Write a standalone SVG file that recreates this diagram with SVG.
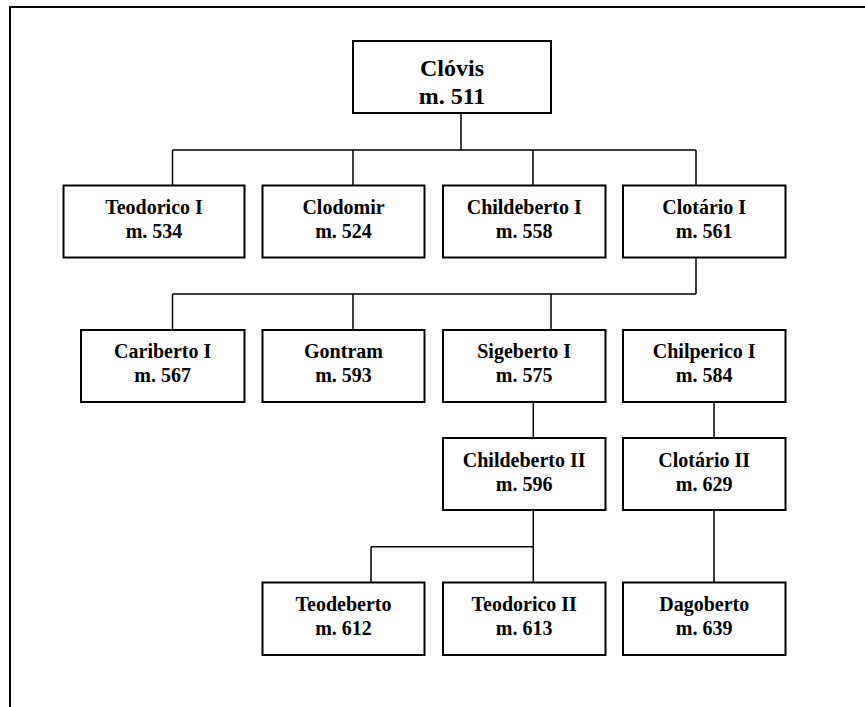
<svg xmlns="http://www.w3.org/2000/svg" width="865" height="707" viewBox="0 0 865 707">
<style>
.box{fill:#fff;stroke:#000;stroke-width:2}
.ln{fill:none;stroke:#000;stroke-width:1.5}
.frame{fill:none;stroke:#000;stroke-width:2}
text{font-family:"Liberation Serif","Times New Roman",serif;font-weight:bold;font-size:20px;text-anchor:middle;fill:#000}
.big{font-size:24px}
</style>
<rect width="865" height="707" fill="#fff"/>
<path class="frame" d="M10,707 V7 H865"/>
<g id="connectors">
<path class="ln" d="M461,113 V150 M172.5,150 H696 M172.5,150 V185.5 M353,150 V185.5 M533,150 V185.5 M696,150 V185.5"/>
<path class="ln" d="M696,257.5 V294 M172.5,294 H696 M172.5,294 V330 M353,294 V330 M551,294 V330"/>
<path class="ln" d="M533.3,402 V438 M714,402 V438"/>
<path class="ln" d="M533.3,510 V582.5 M371,546.7 H533.3 M371,546.7 V582.5 M714,510 V582.5"/>
</g>
<g id="clovis"><rect class="box" x="353" y="41" width="198" height="72"/><text class="big" x="452" y="76">Clóvis</text><text class="big" x="452" y="104">m. 511</text></g>
<g id="teodorico1"><rect class="box" x="63.5" y="185.5" width="181" height="72"/><text x="154" y="213.5">Teodorico I</text><text x="154" y="237.5">m. 534</text></g>
<g id="clodomir"><rect class="box" x="262.5" y="185.5" width="162" height="72"/><text x="343.5" y="213.5">Clodomir</text><text x="343.5" y="237.5">m. 524</text></g>
<g id="childeberto1"><rect class="box" x="443" y="185.5" width="162.5" height="72"/><text x="524.2" y="213.5">Childeberto I</text><text x="524.2" y="237.5">m. 558</text></g>
<g id="clotario1"><rect class="box" x="623" y="185.5" width="162.5" height="72"/><text x="704.2" y="213.5">Clotário I</text><text x="704.2" y="237.5">m. 561</text></g>
<g id="cariberto1"><rect class="box" x="81" y="330" width="163.5" height="72"/><text x="162.7" y="358">Cariberto I</text><text x="162.7" y="382">m. 567</text></g>
<g id="gontram"><rect class="box" x="262.5" y="330" width="162" height="72"/><text x="343.5" y="358">Gontram</text><text x="343.5" y="382">m. 593</text></g>
<g id="sigeberto1"><rect class="box" x="443" y="330" width="162.5" height="72"/><text x="524.2" y="358">Sigeberto I</text><text x="524.2" y="382">m. 575</text></g>
<g id="chilperico1"><rect class="box" x="623" y="330" width="162.5" height="72"/><text x="704.2" y="358">Chilperico I</text><text x="704.2" y="382">m. 584</text></g>
<g id="childeberto2"><rect class="box" x="443" y="438" width="162.5" height="72"/><text x="524.2" y="467">Childeberto II</text><text x="524.2" y="491">m. 596</text></g>
<g id="clotario2"><rect class="box" x="623" y="438" width="162.5" height="72"/><text x="704.2" y="467">Clotário II</text><text x="704.2" y="491">m. 629</text></g>
<g id="teodeberto"><rect class="box" x="262.5" y="582.5" width="162" height="72.5"/><text x="343.5" y="610.5">Teodeberto</text><text x="343.5" y="634.5">m. 612</text></g>
<g id="teodorico2"><rect class="box" x="443" y="582.5" width="162.5" height="72.5"/><text x="524.2" y="610.5">Teodorico II</text><text x="524.2" y="634.5">m. 613</text></g>
<g id="dagoberto"><rect class="box" x="623" y="582.5" width="162.5" height="72.5"/><text x="704.2" y="610.5">Dagoberto</text><text x="704.2" y="634.5">m. 639</text></g>
</svg>
